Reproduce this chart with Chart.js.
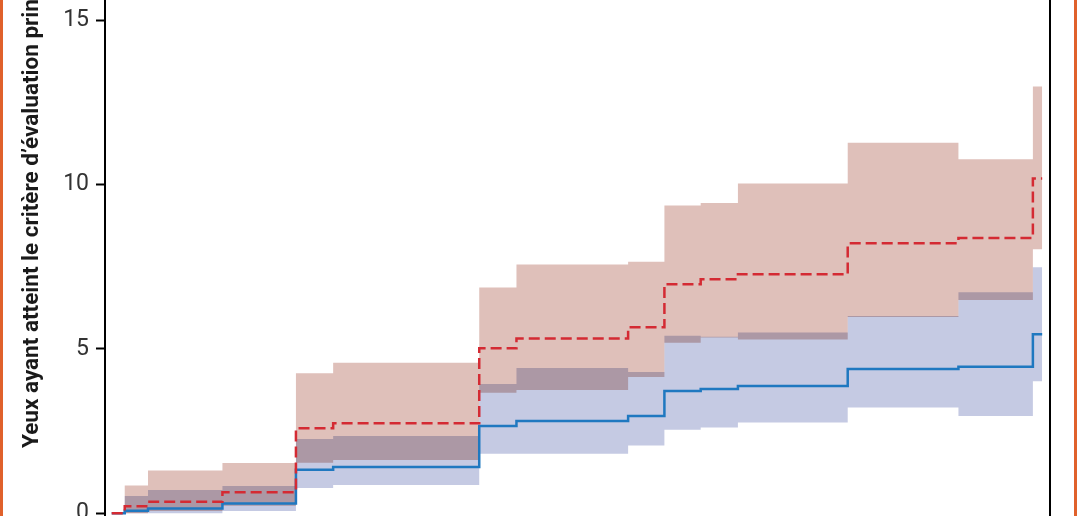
<!DOCTYPE html>
<html lang="fr">
<head>
  <meta charset="UTF-8">
  <title>Yeux ayant atteint le critère d'évaluation principal</title>
  <script src="https://cdn.jsdelivr.net/npm/chart.js"></script>
  <style>
    body { margin: 0; background: #fff; }
    #wrap { position: relative; width: 1078px; height: 516px; overflow: hidden; }
    #wrap canvas { position: absolute; left: 0; top: 0; }
    .bord { position: absolute; top: 0; width: 3px; height: 516px; background: #e0612b; }
  </style>
</head>
<body>
  <div id="wrap">
    <canvas id="graphe" width="1078" height="516"></canvas>
    <div class="bord" style="left:0"></div>
    <div class="bord" style="left:1074px"></div>
  </div>

  <script>
    // temps (unité arbitraire, axe des x non visible)
    const temps = [0, 1.4, 3.9, 11.9, 19.8, 23.8, 39.5, 43.5, 55.5, 59.4, 63.3, 67.3, 79.1, 91.0, 99.0, 100];

    // courbe rouge (pointillés) et son intervalle
    const courbeRouge = [0, 0.22, 0.35, 0.64, 2.59, 2.74, 5.02, 5.32, 5.66, 6.97, 7.12, 7.27, 8.21, 8.37, 10.18, 10.18];
    const rougeHaut = [0, 0.85, 1.30, 1.53, 4.26, 4.58, 6.87, 7.57, 7.65, 9.36, 9.44, 10.03, 11.27, 10.77, 12.98, 12.98];
    const rougeBas = [0, 0, 0.07, 0.23, 1.54, 1.62, 3.67, 3.75, 4.15, 5.19, 5.35, 5.29, 5.97, 6.49, 8.03, 8.03];

    // courbe bleue (trait plein) et son intervalle
    const courbeBleue = [0, 0.08, 0.15, 0.30, 1.33, 1.41, 2.66, 2.81, 2.96, 3.72, 3.78, 3.87, 4.39, 4.46, 5.45, 5.45];
    const bleuHaut = [0, 0.53, 0.71, 0.83, 2.26, 2.35, 3.93, 4.42, 4.30, 5.40, 5.37, 5.50, 6.00, 6.72, 7.48, 7.48];
    const bleuBas = [0, 0, 0, 0.07, 0.77, 0.86, 1.81, 1.81, 2.06, 2.54, 2.61, 2.76, 3.22, 2.96, 4.02, 4.02];

    const ticksY = [0, 5, 10, 15];
    const titreY = "Yeux ayant atteint le critère d’évaluation principal (%)";

    const pts = arr => arr.map((v, i) => ({ x: temps[i], y: v }));

    // les bandes sont mélangées en "multiply" pour obtenir la zone violette
    const melange = {
      id: 'melange',
      beforeDatasetsDraw(chart) {
        chart.ctx.save();
        chart.ctx.globalCompositeOperation = 'multiply';
      },
      beforeDatasetDraw(chart, args) {
        if (!args.meta._dataset.bande) chart.ctx.globalCompositeOperation = 'source-over';
      },
      afterDatasetsDraw(chart) {
        chart.ctx.restore();
      }
    };

    // titre de l'axe y (coupé en haut comme sur l'image)
    const titre = {
      id: 'titre',
      afterDraw(chart) {
        const ctx = chart.ctx;
        ctx.save();
        ctx.translate(38, 448);
        ctx.rotate(-Math.PI / 2);
        ctx.font = 'bold 22.5px Roboto';
        ctx.fillStyle = '#1a1a1a';
        ctx.textAlign = 'left';
        ctx.textBaseline = 'alphabetic';
        ctx.fillText(titreY, 0, 0);
        ctx.restore();
      }
    };

    const bande = (data, couleur, fill) => ({
      data: pts(data), bande: true, order: 1, stepped: 'before',
      borderWidth: 0, pointRadius: 0, backgroundColor: couleur, fill: fill
    });

    new Chart(document.getElementById('graphe'), {
      type: 'line',
      data: {
        datasets: [
          { data: pts(courbeRouge), order: 0, stepped: 'before', borderColor: '#d42a33', borderWidth: 2.5,
            borderDash: [11, 5], pointRadius: 0, fill: false },
          { data: pts(courbeBleue), order: 0, stepped: 'before', borderColor: '#1f78c0', borderWidth: 2.5,
            pointRadius: 0, fill: false },
          bande(rougeHaut, '#dfc0ba', '+1'),
          bande(rougeBas, '#dfc0ba', false),
          bande(bleuHaut, '#c5cae3', '+1'),
          bande(bleuBas, '#c5cae3', false)
        ]
      },
      options: {
        responsive: false,
        animation: false,
        layout: { padding: 0 },
        plugins: { legend: { display: false }, tooltip: { enabled: false } },
        scales: {
          x: { type: 'linear', min: -0.72, max: 100.84, display: false },
          y: {
            min: -0.08, max: 15.61,
            afterBuildTicks: s => { s.ticks = ticksY.map(v => ({ value: v })); },
            afterFit: s => { s.width = 105; s.paddingTop = 0; s.paddingBottom = 0; },
            grid: { drawOnChartArea: false, drawTicks: true, tickLength: 9, tickWidth: 2, tickColor: '#000' },
            border: { display: true, color: '#000', width: 2 },
            ticks: { padding: 7, color: '#333', font: { family: "'Liberation Sans Narrow', Roboto", size: 23 } }
          },
          y2: {
            position: 'right', min: 0, max: 1,
            afterFit: s => { s.width = 28; s.paddingTop = 0; s.paddingBottom = 0; },
            grid: { display: false },
            border: { display: true, color: '#000', width: 2 },
            ticks: { display: false }
          }
        }
      },
      plugins: [melange, titre]
    });
  </script>
</body>
</html>
